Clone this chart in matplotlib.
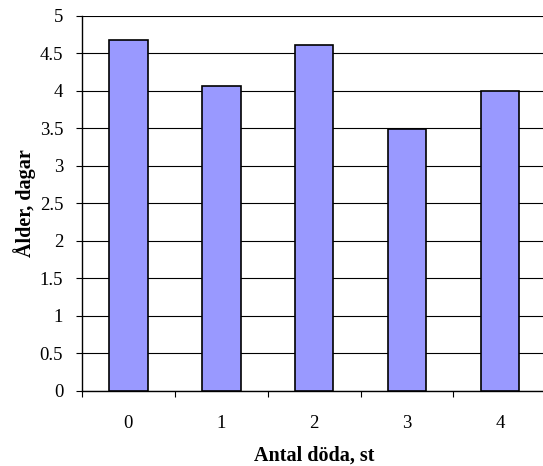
import numpy as np
import matplotlib
matplotlib.use('AGG')
import matplotlib.pyplot as plt

categories = ['0', '1', '2', '3', '4']
ages = [4.68, 4.07, 4.61, 3.49, 4.0]
y_ticks = [0, 0.5, 1, 1.5, 2, 2.5, 3, 3.5, 4, 4.5, 5]
y_tick_labels = ['0', '0.5', '1', '1.5', '2', '2.5', '3', '3.5', '4', '4.5', '5']

plt.rcParams['font.family'] = ['Liberation Serif', 'DejaVu Serif']

fig = plt.figure(figsize=(5.43, 4.66), dpi=100)
ax = fig.add_axes([0.151, 0.161, 0.855, 0.805])

x = np.arange(len(categories))
ax.bar(x, ages, width=0.415, color='#9999FF', edgecolor='black',
       linewidth=1.2, zorder=3)

ax.set_xlim(-0.5, len(categories) - 0.5)
ax.set_ylim(0, 5)
ax.set_yticks(y_ticks)
ax.set_yticklabels(y_tick_labels)
ax.set_xticks(x)
ax.set_xticklabels(categories)
ax.set_xticks(np.arange(-0.5, len(categories), 1.0), minor=True)

ax.yaxis.grid(True, color='black', linewidth=0.8, zorder=0)
ax.set_axisbelow(True)

for side in ['top', 'right']:
    ax.spines[side].set_visible(False)
ax.spines['left'].set_linewidth(1.0)
ax.spines['bottom'].set_linewidth(1.0)

ax.tick_params(axis='y', direction='out', length=4.5, width=0.8,
               labelsize=13.5, pad=9)
ax.tick_params(axis='x', which='major', length=0, labelsize=13.5, pad=17)
ax.tick_params(axis='x', which='minor', direction='out', length=4, width=0.8)

ax.set_ylabel('Ålder, dagar', fontsize=14.5, fontweight='bold', labelpad=3)
ax.set_xlabel('Antal döda, st', fontsize=14.5, fontweight='bold', labelpad=10)

fig.savefig('out.png', dpi=100)
